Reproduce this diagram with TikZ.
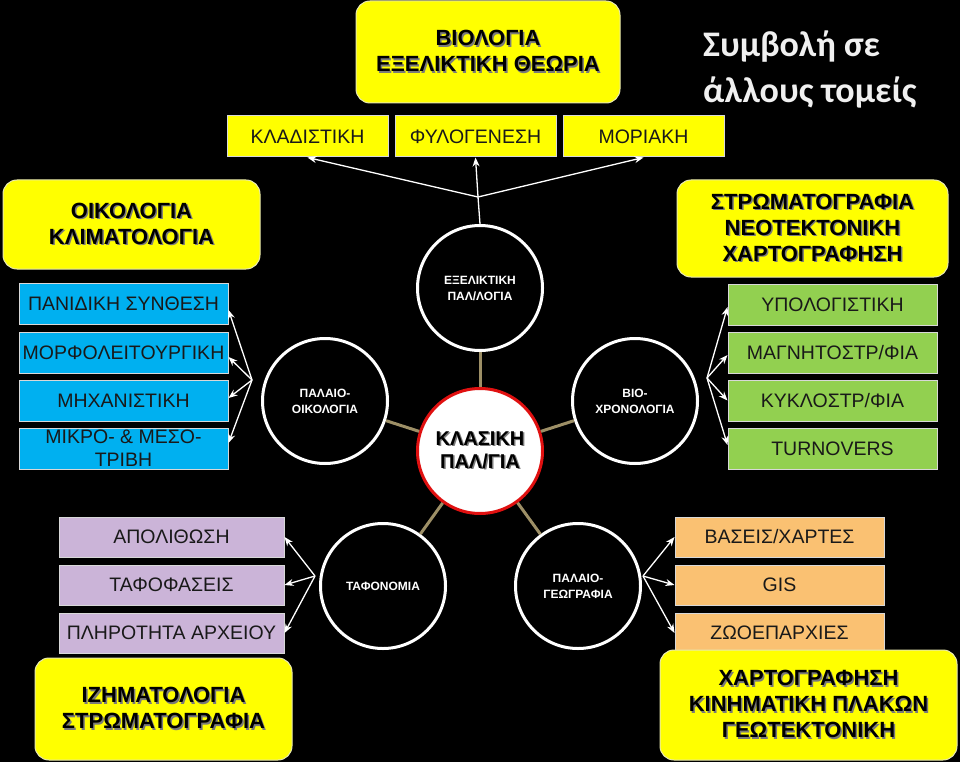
\documentclass[tikz,border=0pt]{standalone}
\usepackage{fontspec}
\setmainfont{Liberation Sans}
\newfontfamily\carl{Carlito}
\usetikzlibrary{arrows.meta}
\definecolor{yel}{HTML}{FFFF00}
\definecolor{ybord}{HTML}{E8E8B0}
\definecolor{blu}{HTML}{00B0F0}
\definecolor{grn}{HTML}{92D050}
\definecolor{lav}{HTML}{CBB4D8}
\definecolor{org}{HTML}{FAC172}
\definecolor{tanc}{HTML}{9D8F66}
\definecolor{redc}{HTML}{E01010}
\definecolor{shcol}{HTML}{7A7A7A}
\definecolor{bbord}{HTML}{D8D8D8}
\newcommand{\shd}[1]{\makebox[0pt][l]{\hspace{1.5pt}\raisebox{-1.5pt}{\textcolor{shcol}{#1}}}#1}
\tikzset{
  ybox/.style={draw=ybord, fill=yel, rounded corners=14pt, line width=1pt, inner sep=0pt, align=center, text=black, font=\bfseries\fontsize{22}{26}\selectfont},
  tbox/.style={draw=bbord, line width=1pt, inner sep=0pt, align=center, text=black!90, font=\fontsize{19.5}{23}\selectfont, minimum height=41pt},
  circ/.style={circle, draw=white, line width=3pt, fill=black, minimum size=125pt, inner sep=0pt, align=center, text=white, font=\bfseries\fontsize{12}{16}\selectfont},
  conn/.style={draw=tanc, line width=3pt},
  arr/.style={draw=white, line width=1.3pt, -{Stealth[length=9pt,width=7pt]}}
}
\begin{document}
\begin{tikzpicture}[x=1pt,y=-1pt]
\useasboundingbox (0,0) rectangle (960,762);
\fill[black] (0,0) rectangle (960,762);

% top
\node[ybox, minimum width=264pt, minimum height=102pt] (bio) at (488,52) {\shd{ΒΙΟΛΟΓΙΑ}\\\shd{ΕΞΕΛΙΚΤΙΚΗ ΘΕΩΡΙΑ}};
\node[tbox, fill=yel, minimum width=161pt] (kla) at (307.5,136.5) {ΚΛΑΔΙΣΤΙΚΗ};
\node[tbox, fill=yel, minimum width=161pt] (fyl) at (475.5,136.5) {ΦΥΛΟΓΕΝΕΣΗ};
\node[tbox, fill=yel, minimum width=161pt] (mor) at (643.5,136.5) {ΜΟΡΙΑΚΗ};
\node[anchor=base west, inner sep=0pt, align=left, text=white!94!black, font=\carl\bfseries\fontsize{36}{46}\selectfont] (sym) at (703,103) {Συμβολή σε\\άλλους τομείς};

% left
\node[ybox, minimum width=257pt, minimum height=89pt] (oik) at (131.5,224.5) {\shd{ΟΙΚΟΛΟΓΙΑ}\\\shd{ΚΛΙΜΑΤΟΛΟΓΙΑ}};
\node[tbox, fill=blu, minimum width=209pt] (b1) at (123.5,303.5) {ΠΑΝΙΔΙΚΗ ΣΥΝΘΕΣΗ};
\node[tbox, fill=blu, minimum width=209pt] (b2) at (123.5,352.5) {ΜΟΡΦΟΛΕΙΤΟΥΡΓΙΚΗ};
\node[tbox, fill=blu, minimum width=209pt] (b3) at (123.5,400.5) {ΜΗΧΑΝΙΣΤΙΚΗ};
\node[tbox, fill=blu, minimum width=209pt] (b4) at (123.5,448.5) {ΜΙΚΡΟ- \& ΜΕΣΟ-\\ΤΡΙΒΗ};

% right
\node[ybox, minimum width=271pt, minimum height=97pt] (str) at (812.5,228.5) {\shd{ΣΤΡΩΜΑΤΟΓΡΑΦΙΑ}\\\shd{ΝΕΟΤΕΚΤΟΝΙΚΗ}\\\shd{ΧΑΡΤΟΓΡΑΦΗΣΗ}};
\node[tbox, fill=grn, minimum width=209pt] (g1) at (832.5,305) {ΥΠΟΛΟΓΙΣΤΙΚΗ};
\node[tbox, fill=grn, minimum width=209pt] (g2) at (832.5,353) {ΜΑΓΝΗΤΟΣΤΡ/ΦΙΑ};
\node[tbox, fill=grn, minimum width=209pt] (g3) at (832.5,400.5) {ΚΥΚΛΟΣΤΡ/ΦΙΑ};
\node[tbox, fill=grn, minimum width=209pt] (g4) at (832.5,448.5) {TURNOVERS};

% circles
\node[circ] (exe) at (480,288) {ΕΞΕΛΙΚΤΙΚΗ\\ΠΑΛ/ΛΟΓΙΑ};
\node[circ] (poi) at (325,401) {ΠΑΛΑΙΟ-\\ΟΙΚΟΛΟΓΙΑ};
\node[circ] (bxr) at (635,401) {ΒΙΟ-\\ΧΡΟΝΟΛΟΓΙΑ};
\node[circ] (taf) at (383,586) {ΤΑΦΟΝΟΜΙΑ};
\node[circ] (pge) at (578,586) {ΠΑΛΑΙΟ-\\ΓΕΩΓΡΑΦΙΑ};
\node[circle, draw=redc, fill=white, line width=3pt, minimum size=125pt, inner sep=0pt, align=center, text=black, font=\bfseries\fontsize{20}{23}\selectfont] (kl) at (480,451) {\shd{ΚΛΑΣΙΚΗ}\\\shd{ΠΑΛ/ΓΙΑ}};

% bottom left
\node[tbox, fill=lav, minimum width=225pt, minimum height=40pt] (l1) at (171.5,537) {ΑΠΟΛΙΘΩΣΗ};
\node[tbox, fill=lav, minimum width=225pt, minimum height=40pt] (l2) at (171.5,585) {ΤΑΦΟΦΑΣΕΙΣ};
\node[tbox, fill=lav, minimum width=225pt, minimum height=40pt] (l3) at (171.5,633) {ΠΛΗΡΟΤΗΤΑ ΑΡΧΕΙΟΥ};
\node[ybox, minimum width=257pt, minimum height=102pt] (izh) at (163.5,709) {\shd{ΙΖΗΜΑΤΟΛΟΓΙΑ}\\\shd{ΣΤΡΩΜΑΤΟΓΡΑΦΙΑ}};

% bottom right
\node[tbox, fill=org, minimum width=209pt, minimum height=40pt] (o1) at (779.5,537) {ΒΑΣΕΙΣ/ΧΑΡΤΕΣ};
\node[tbox, fill=org, minimum width=209pt, minimum height=40pt] (o2) at (779.5,585) {GIS};
\node[tbox, fill=org, minimum width=209pt, minimum height=40pt] (o3) at (779.5,633) {ΖΩΟΕΠΑΡΧΙΕΣ};
\node[ybox, minimum width=297pt, minimum height=110pt] (xar) at (808.5,705) {\shd{ΧΑΡΤΟΓΡΑΦΗΣΗ}\\\shd{ΚΙΝΗΜΑΤΙΚΗ ΠΛΑΚΩΝ}\\\shd{ΓΕΩΤΕΚΤΟΝΙΚΗ}};

% connectors from centre
\draw[conn] (kl) -- (exe);
\draw[conn] (kl) -- (poi);
\draw[conn] (kl) -- (bxr);
\draw[conn] (kl) -- (taf);
\draw[conn] (kl) -- (pge);

% arrows
\coordinate (tp) at (478,197);
\draw[draw=white, line width=1.3pt] (exe.north) -- (tp);
\draw[arr] (tp) -- (kla.south);
\draw[arr] (tp) -- (fyl.south);
\draw[arr] (tp) -- (mor.south);

\coordinate (lp) at (252,380);
\draw[arr] (lp) -- ([yshift=-6.5pt]b1.east);
\draw[arr] (lp) -- ([yshift=-4.5pt]b2.east);
\draw[arr] (lp) -- ([yshift=2.5pt]b3.east);
\draw[arr] (lp) -- ([yshift=5.5pt]b4.east);

\coordinate (rp) at (707,378);
\draw[arr] (rp) -- ([yshift=-2pt]g1.west);
\draw[arr] (rp) -- ([yshift=-2pt]g2.west);
\draw[arr] (rp) -- (g3.west);
\draw[arr] (rp) -- ([yshift=3.5pt]g4.west);

\coordinate (tfp) at (315,576);
\draw[arr] (tfp) -- (l1.east);
\draw[arr] (tfp) -- (l2.east);
\draw[arr] (tfp) -- (l3.east);

\coordinate (pgp) at (643,576);
\draw[arr] (pgp) -- (o1.west);
\draw[arr] (pgp) -- (o2.west);
\draw[arr] (pgp) -- (o3.west);
\end{tikzpicture}
\end{document}
